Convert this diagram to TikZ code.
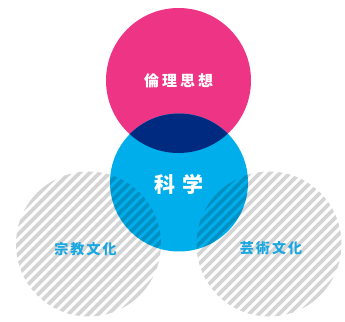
\documentclass[tikz,border=0pt]{standalone}
\usepackage{fontspec}
\newfontfamily\jpfont{Noto Sans CJK JP}
\usetikzlibrary{positioning}
\definecolor{rinri}{HTML}{EE3585}
\definecolor{kagaku}{HTML}{00AEEB}
\definecolor{kasane}{HTML}{002A80}
\definecolor{bunka}{HTML}{1AA6E0}
\tikzset{
  toplabel/.style={text=white, font=\jpfont\bfseries\fontsize{15}{18}\selectfont\addfontfeatures{LetterSpace=20}},
  mainlabel/.style={text=white, font=\jpfont\bfseries\fontsize{21}{24}\selectfont\addfontfeatures{LetterSpace=33}},
  sidelabel/.style={text=bunka, font=\jpfont\bfseries\fontsize{14}{17}\selectfont\addfontfeatures{LetterSpace=15}},
  stripes/.style={line width=3.6pt, black, opacity=0.17},
}

\begin{document}
\begin{tikzpicture}[x=1pt,y=1pt]
  \useasboundingbox (0,0) rectangle (345,321);
  % Centres
  \coordinate (ethics) at (178.5,240.5);
  \coordinate (science) at (179,138.5);
  \coordinate (religion) at (88.5,77);
  \coordinate (art) at (269,77);

  % Ethics circle
  \fill[rinri] (ethics) circle (72.5);
  % Science circle
  \fill[kagaku] (science) circle (69);
  % Overlap of the two
  \begin{scope}
    \clip (ethics) circle (72.5);
    \fill[kasane] (science) circle (69);
  \end{scope}

  % Hatched circles
  \foreach \c in {religion,art}{
    \begin{scope}[shift={(\c)}]
      \clip (0,0) circle (72.5);
      \foreach \k in {-160,-150,...,160}
        \draw[stripes] (\k-80,-80) -- ++(160,160);
    \end{scope}
  }

  % Labels
  \node[toplabel] (ethicslabel) at (ethics) {倫理思想};
  \node[mainlabel] (sciencelabel) at (179,137) {科学};
  \node[sidelabel] (religionlabel) at (85.5,71.5) {宗教文化};
  \node[sidelabel] (artlabel) at (271,73) {芸術文化};
\end{tikzpicture}
\end{document}
